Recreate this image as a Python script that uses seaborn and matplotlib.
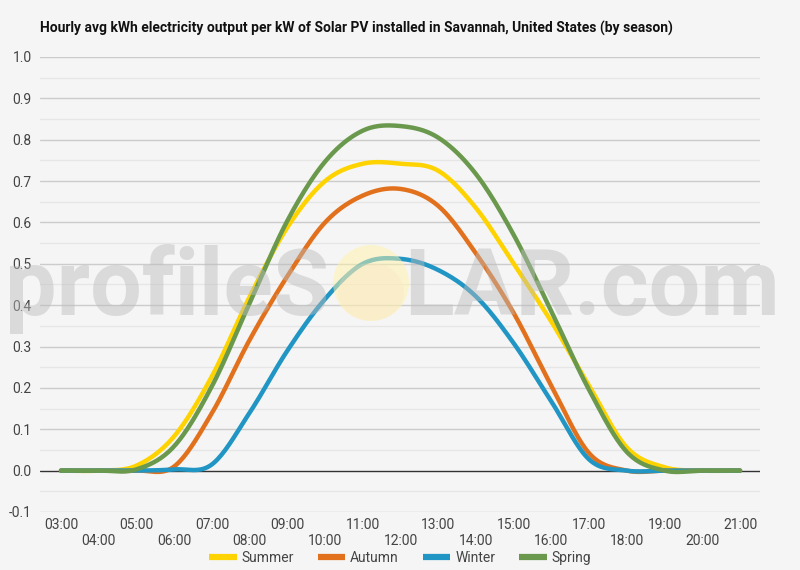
import numpy as np
import pandas as pd
import matplotlib
matplotlib.use("Agg")
import matplotlib.pyplot as plt
from matplotlib.patches import Ellipse
from matplotlib.lines import Line2D
import seaborn as sns

# ---------------- data ----------------
hours = list(range(3, 22))
seasons = ["Summer", "Autumn", "Winter", "Spring"]
summer = [0, 0, 0.012, 0.083, 0.228, 0.42, 0.588, 0.70, 0.742, 0.742, 0.725, 0.635, 0.50, 0.36, 0.205, 0.056, 0.008, 0, 0]
autumn = [0, 0, 0, 0.01, 0.139, 0.316, 0.47, 0.60, 0.665, 0.681, 0.640, 0.525, 0.381, 0.205, 0.042, 0.0, 0, 0, 0]
winter = [0, 0, 0, 0.003, 0.015, 0.14, 0.29, 0.415, 0.50, 0.512, 0.485, 0.421, 0.308, 0.167, 0.027, 0.0, 0, 0, 0]
spring = [0, 0, 0.003, 0.059, 0.204, 0.405, 0.604, 0.747, 0.822, 0.833, 0.805, 0.717, 0.57, 0.385, 0.195, 0.045, 0.0, 0, 0]
colors = ["#FFD300", "#E2711D", "#2196C4", "#6A994E"]
y_ticks = [round(-0.1 + 0.1 * i, 1) for i in range(12)]

series = dict(zip(seasons, [summer, autumn, winter, spring]))


def smooth(x, y, n=20):
    """Catmull-Rom style curve through the given points (rendering only)."""
    x = np.asarray(x, float)
    y = np.asarray(y, float)
    m = np.zeros_like(y)
    m[1:-1] = (y[2:] - y[:-2]) / (x[2:] - x[:-2])
    xs, ys = [], []
    for i in range(len(x) - 1):
        h = x[i + 1] - x[i]
        t = np.linspace(0, 1, n, endpoint=False)
        h00 = 2 * t**3 - 3 * t**2 + 1
        h10 = t**3 - 2 * t**2 + t
        h01 = -2 * t**3 + 3 * t**2
        h11 = t**3 - t**2
        xs.append(x[i] + t * h)
        ys.append(h00 * y[i] + h10 * h * m[i] + h01 * y[i + 1] + h11 * h * m[i + 1])
    xs.append([x[-1]])
    ys.append([y[-1]])
    return np.concatenate(xs), np.concatenate(ys)


frames = []
for s in seasons:
    sx, sy = smooth(hours, series[s])
    frames.append(pd.DataFrame({"hour": sx, "value": sy, "season": s}))
df = pd.concat(frames, ignore_index=True)

# ---------------- plot ----------------
sns.set_theme(style="white")
plt.rcParams["font.family"] = ["Roboto", "DejaVu Sans"]

BG = "#F5F5F5"
TXT = "#444444"
fig = plt.figure(figsize=(8, 5.7), dpi=100, facecolor=BG)
ax = fig.add_axes([0.05, 0.1018, 0.90, 0.7982])
ax.set_facecolor(BG)

# grid
for v in np.arange(-0.1, 1.0001, 0.05):
    v = round(v, 2)
    if abs(v) < 1e-9:
        continue
    major = abs(round(v * 10) - v * 10) < 1e-6
    ax.axhline(v, color="#CCCCCC" if major else "#E6E6E6", lw=1.0, zorder=0)
ax.axhline(0, color="#333333", lw=1.0, zorder=1)

sns.lineplot(data=df, x="hour", y="value", hue="season", hue_order=seasons,
             palette=colors, linewidth=3.2, sort=False, estimator=None,
             legend=False, ax=ax, zorder=3)

ax.set_xlim(2.443, 21.53)
ax.set_ylim(-0.1, 1.0)
for sp in ax.spines.values():
    sp.set_visible(False)

ax.set_yticks(y_ticks)
ax.set_yticklabels([f"{t:.1f}" for t in y_ticks], fontsize=10, color=TXT)
ax.tick_params(axis="y", length=0, pad=6)

odd = hours[0::2]
even = hours[1::2]
ax.set_xticks(odd)
ax.set_xticklabels([f"{h:02d}:00" for h in odd], fontsize=10, color=TXT)
ax.set_xticks(even, minor=True)
ax.set_xticklabels([f"{h:02d}:00" for h in even], minor=True, fontsize=10, color=TXT)
ax.tick_params(axis="x", which="major", length=0, pad=4)
ax.tick_params(axis="x", which="minor", length=0, pad=16)
ax.set_xlabel("")
ax.set_ylabel("")

fig.text(0.05, 1 - 28 / 570, "Hourly avg kWh electricity output per kW of Solar PV installed in Savannah, United States (by season)",
         fontsize=10, fontweight="bold", color="#111111", ha="left", va="center")

# legend
handles = [Line2D([0], [0], color=c, lw=4.5, solid_capstyle="butt") for c in colors]
fig.legend(handles, seasons, loc="center", bbox_to_anchor=(0.5, 1 - 558 / 570), ncol=4,
           frameon=False, fontsize=10, handlelength=2.0, handletextpad=0.35,
           columnspacing=1.7, labelcolor=TXT)

# watermark
fig.text(5 / 800, 1 - 315 / 570, "profileS", fontsize=66, fontweight="bold",
         color="#BBBBBB", alpha=0.45, ha="left", va="baseline", zorder=10)
fig.text(404 / 800, 1 - 315 / 570, "LAR.com", fontsize=66, fontweight="bold",
         color="#BBBBBB", alpha=0.45, ha="left", va="baseline", zorder=10)
circ = Ellipse((371 / 800, 1 - 283 / 570), 76 / 800, 76 / 570, transform=fig.transFigure,
               facecolor="#FFF3A8", edgecolor="none", alpha=0.5, zorder=10)
fig.add_artist(circ)
circ2 = Ellipse((371 / 800, 1 - 292 / 570), 66 / 800, 58 / 570, transform=fig.transFigure,
                facecolor="#FCE3C0", edgecolor="none", alpha=0.25, zorder=10)
fig.add_artist(circ2)

fig.savefig("out.png", dpi=100, facecolor=BG)
